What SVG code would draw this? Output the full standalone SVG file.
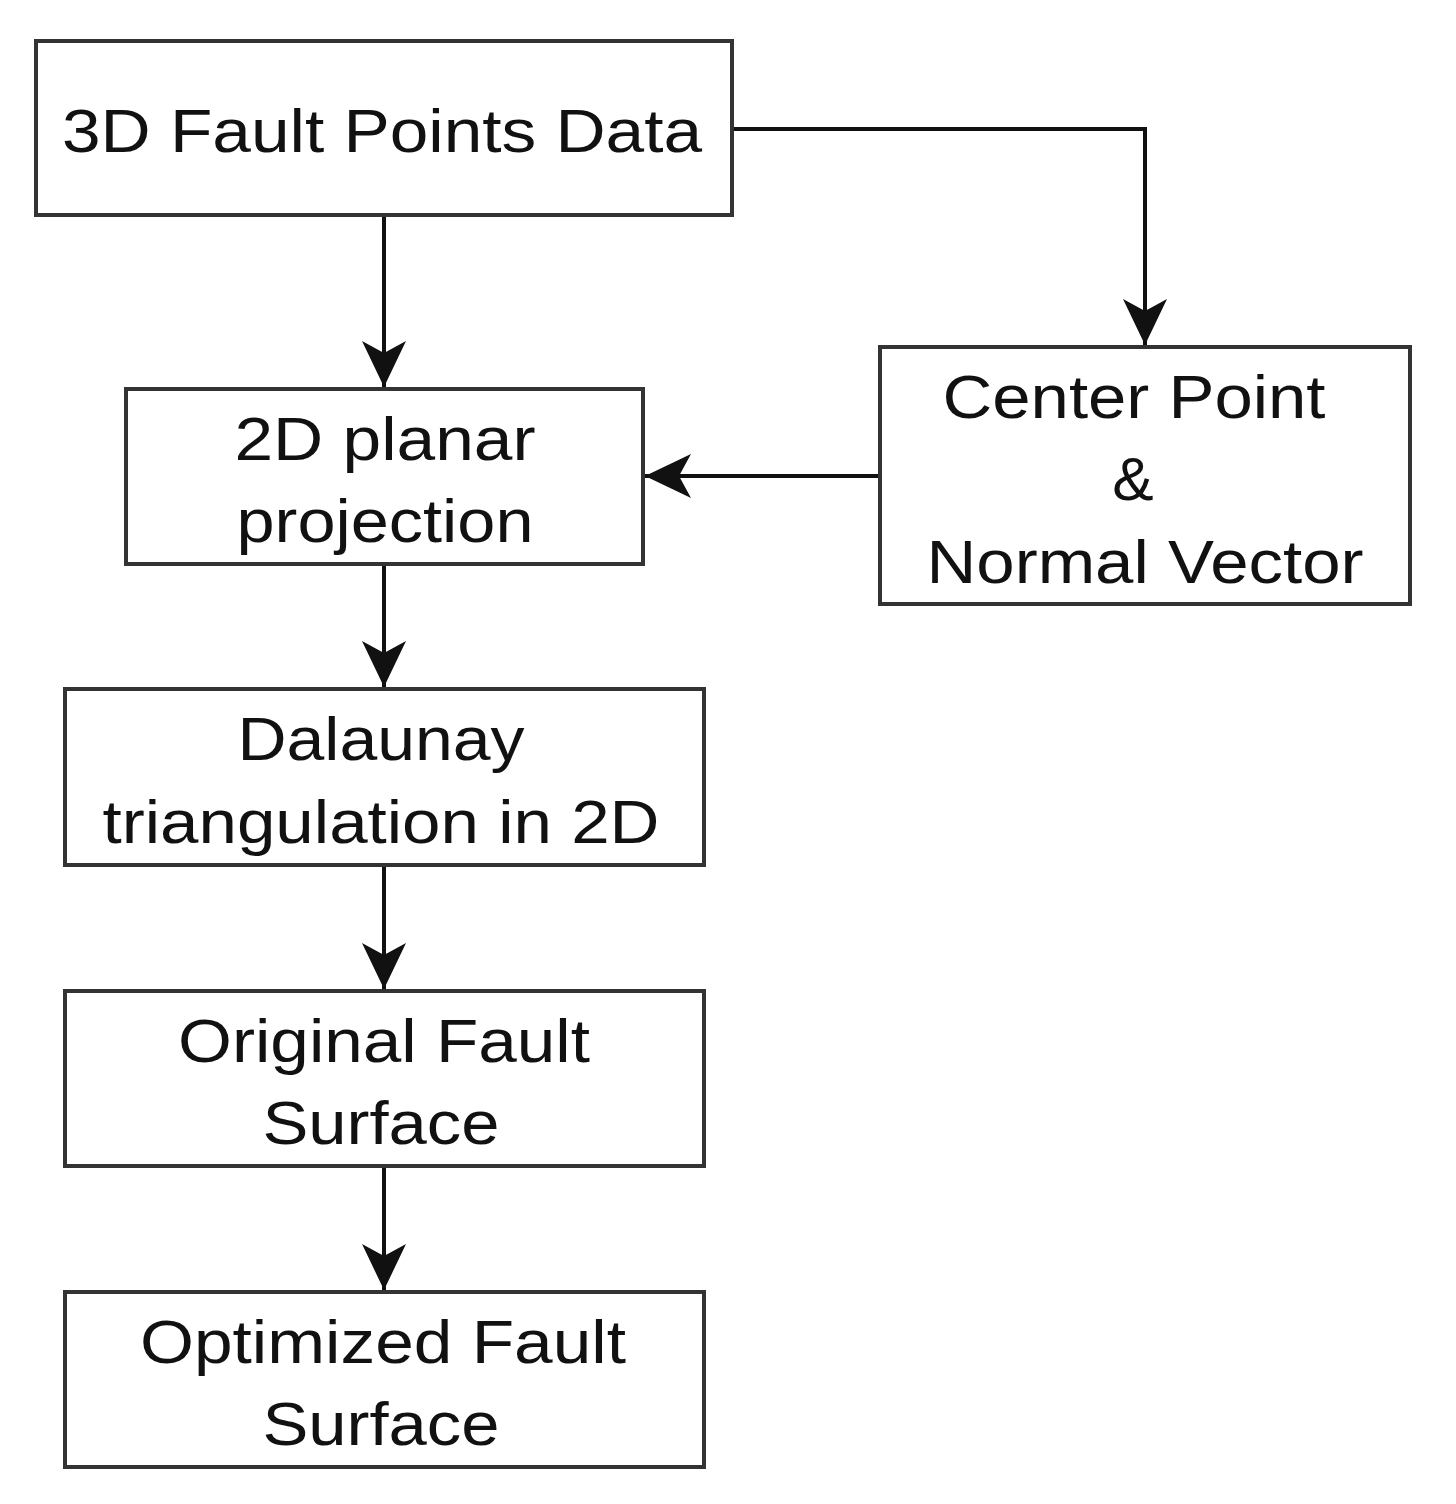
<svg xmlns="http://www.w3.org/2000/svg" width="1456" height="1504" viewBox="0 0 1456 1504">
<style>
.b{fill:#fff;stroke:#333;stroke-width:4}
.t{font-family:"Liberation Sans",Arial,sans-serif;font-size:62px;fill:#111;text-anchor:middle}
.c{fill:none;stroke:#111;stroke-width:4}
</style>
<defs>
<marker id="a" markerUnits="userSpaceOnUse" markerWidth="60" markerHeight="60" viewBox="0 0 60 60" refX="46" refY="30" orient="auto">
<path d="M0,8 L46,30 L0,52 L12,30 Z" fill="#111"/>
</marker>
</defs>
<rect width="1456" height="1504" fill="#fff"/>
<g id="connectors">
<path class="c" d="M384,215 V387" marker-end="url(#a)"/>
<path class="c" d="M732,129 H1145 V345" marker-end="url(#a)"/>
<path class="c" d="M880,476 H645" marker-end="url(#a)"/>
<path class="c" d="M384,564 V687" marker-end="url(#a)"/>
<path class="c" d="M384,865 V989" marker-end="url(#a)"/>
<path class="c" d="M384,1166 V1290" marker-end="url(#a)"/>
</g>
<g id="n1"><rect class="b" x="36" y="41" width="696" height="174"/><text class="t" x="382" y="152" textLength="640" lengthAdjust="spacingAndGlyphs">3D Fault Points Data</text></g>
<g id="n2"><rect class="b" x="126" y="389" width="517" height="175"/><text class="t" x="385" y="460" textLength="301" lengthAdjust="spacingAndGlyphs">2D planar</text><text class="t" x="385" y="542" textLength="297" lengthAdjust="spacingAndGlyphs">projection</text></g>
<g id="n3"><rect class="b" x="880" y="347" width="530" height="257"/><text class="t" x="1134" y="418" textLength="383" lengthAdjust="spacingAndGlyphs">Center Point</text><text class="t" x="1133" y="500">&amp;</text><text class="t" x="1145" y="583" textLength="437" lengthAdjust="spacingAndGlyphs">Normal Vector</text></g>
<g id="n4"><rect class="b" x="65" y="689" width="639" height="176"/><text class="t" x="381" y="760" textLength="287" lengthAdjust="spacingAndGlyphs">Dalaunay</text><text class="t" x="381" y="843" textLength="557" lengthAdjust="spacingAndGlyphs">triangulation in 2D</text></g>
<g id="n5"><rect class="b" x="65" y="991" width="639" height="175"/><text class="t" x="384" y="1062" textLength="412" lengthAdjust="spacingAndGlyphs">Original Fault</text><text class="t" x="381" y="1144" textLength="237" lengthAdjust="spacingAndGlyphs">Surface</text></g>
<g id="n6"><rect class="b" x="65" y="1292" width="639" height="175"/><text class="t" x="383" y="1363" textLength="486" lengthAdjust="spacingAndGlyphs">Optimized Fault</text><text class="t" x="381" y="1445" textLength="237" lengthAdjust="spacingAndGlyphs">Surface</text></g>
</svg>
